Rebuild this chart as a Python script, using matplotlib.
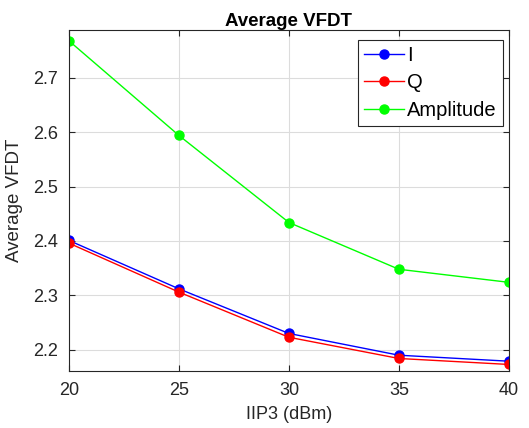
import numpy as np
import matplotlib.pyplot as plt

plt.rcParams['font.family'] = ['Liberation Sans', 'DejaVu Sans']

# data
iip3 = [20, 25, 30, 35, 40]
vfdt_i = [2.401, 2.312, 2.230, 2.190, 2.179]
vfdt_q = [2.396, 2.306, 2.223, 2.184, 2.173]
vfdt_amp = [2.768, 2.594, 2.434, 2.348, 2.324]
xticks = [20, 25, 30, 35, 40]
yticks = [2.2, 2.3, 2.4, 2.5, 2.6, 2.7]

fig = plt.figure(figsize=(5.29, 4.28), dpi=100)
ax = fig.add_axes([0.1304, 0.1332, 0.8316, 0.7968])

ax.plot(iip3, vfdt_i, '-o', color='#0000ff', lw=1.0, ms=6.5, label='I')
ax.plot(iip3, vfdt_q, '-o', color='#ff0000', lw=1.0, ms=6.5, label='Q')
ax.plot(iip3, vfdt_amp, '-o', color='#00ff00', lw=1.0, ms=6.5, label='Amplitude')

ax.set_xlim(20, 40)
ax.set_ylim(2.161, 2.788)
ax.set_xticks(xticks)
ax.set_yticks(yticks)
ax.grid(True, color='#dcdcdc', lw=0.8)
ax.set_axisbelow(True)
ax.tick_params(direction='in', top=True, right=True, labelsize=13,
               colors='#262626', length=4, pad=8)
for s in ax.spines.values():
    s.set_color('#262626')
    s.set_linewidth(0.8)

ax.set_xlabel('IIP3 (dBm)', fontsize=13, color='#262626', labelpad=5)
ax.set_ylabel('Average VFDT', fontsize=13.5, color='#262626', labelpad=7)
ax.set_title('Average VFDT', fontsize=13.5, fontweight='bold', pad=3)

leg = ax.legend(loc='upper right', bbox_to_anchor=(0.986, 0.971),
                borderaxespad=0, fontsize=14.5, fancybox=False,
                edgecolor='#262626', framealpha=1, borderpad=0.3,
                handlelength=2.0, handletextpad=0.15, labelspacing=0.42)
leg.get_frame().set_linewidth(0.8)

fig.savefig('out.png', dpi=100)
